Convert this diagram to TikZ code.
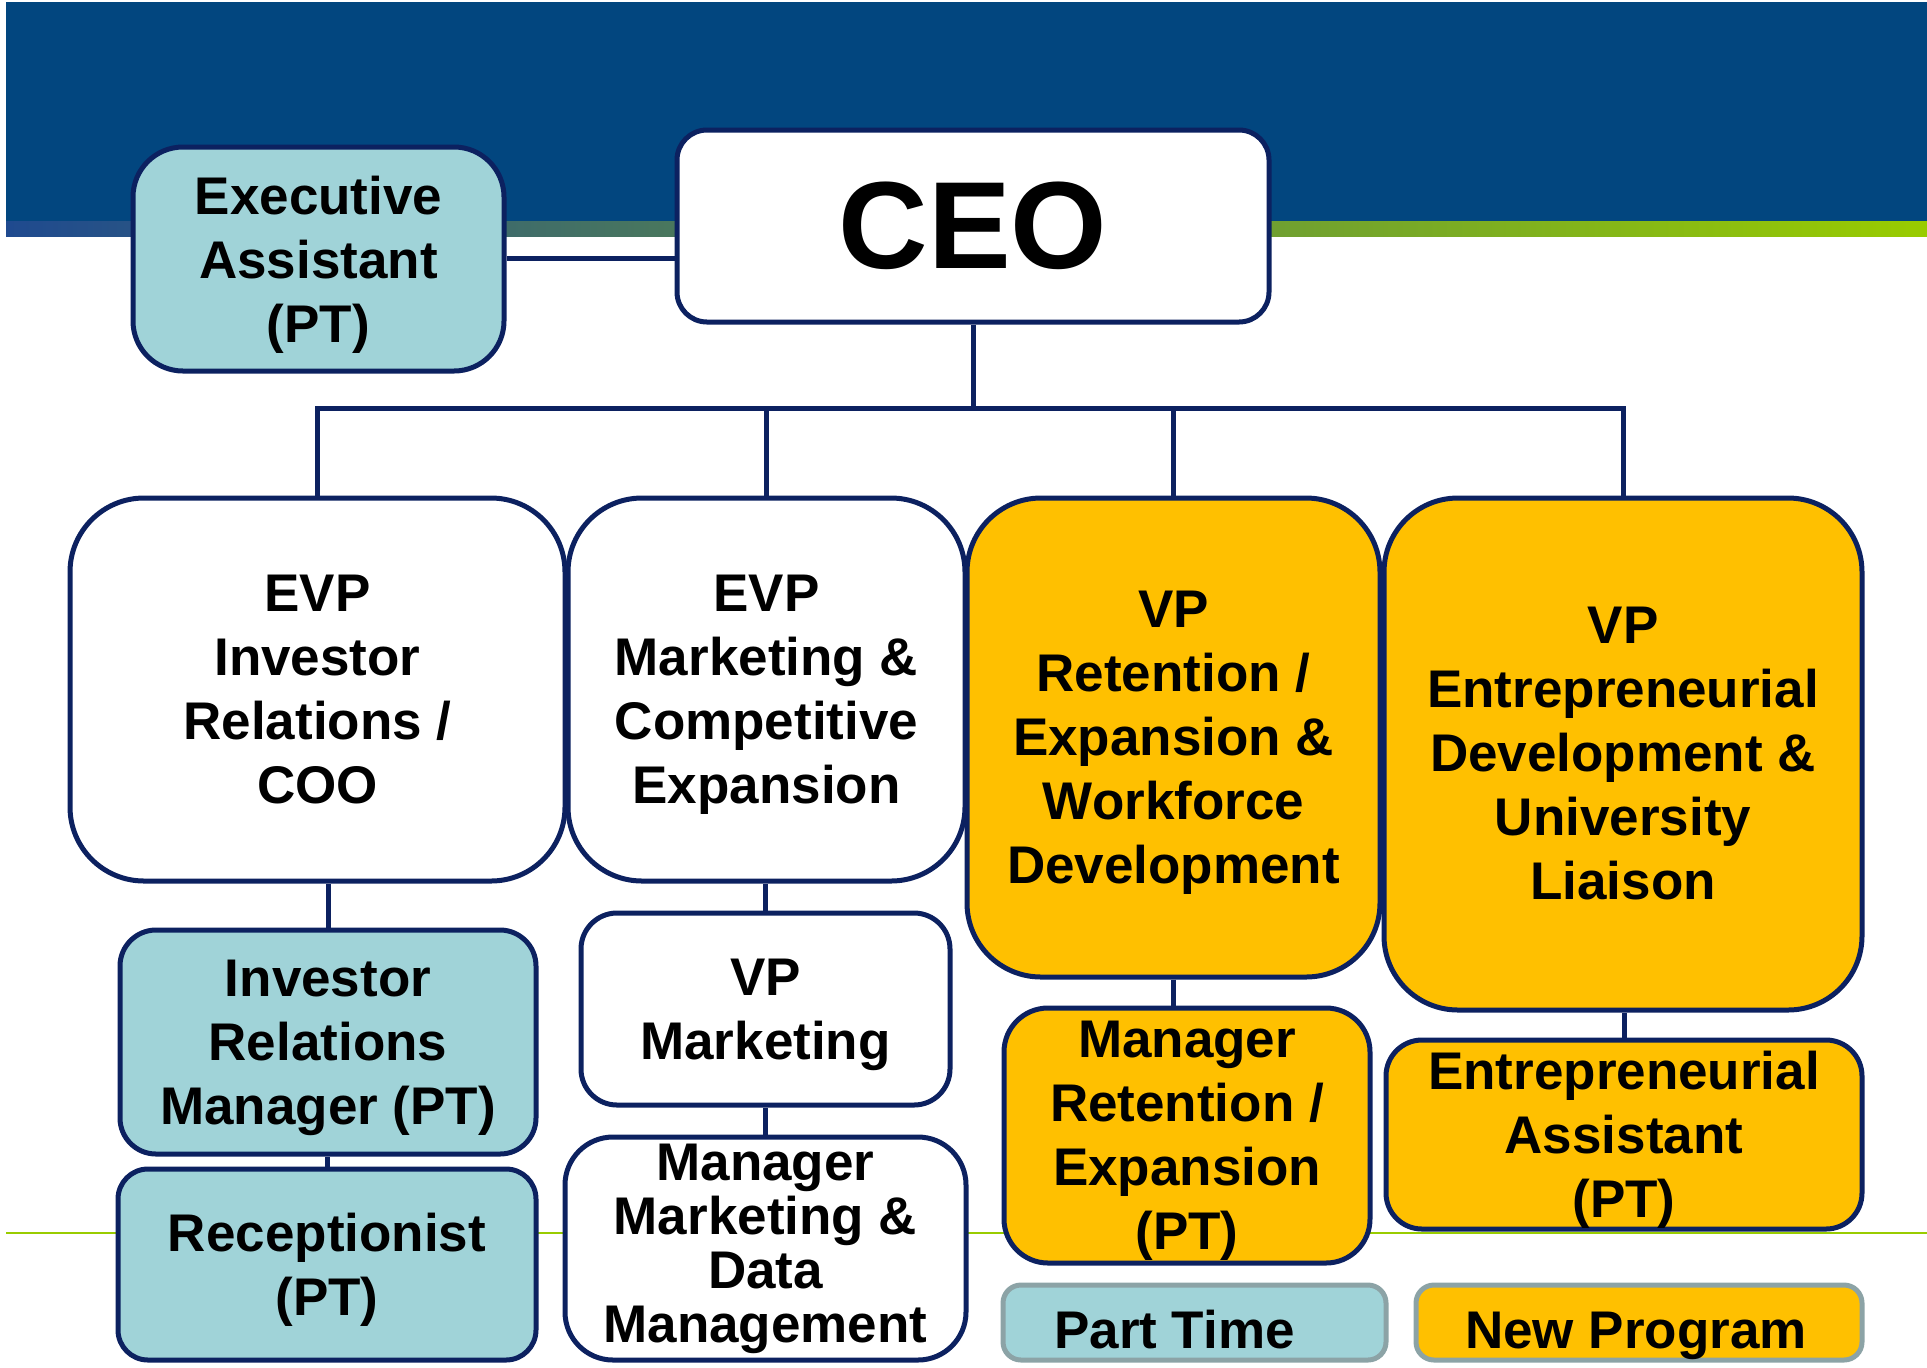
\documentclass[tikz,border=0pt]{standalone}
\usepackage{fontspec}
\setmainfont{Liberation Sans}
\definecolor{bannerblue}{HTML}{02467F}
\definecolor{stripeblue}{HTML}{1F4A8F}
\definecolor{stripegreen}{HTML}{99CC00}
\definecolor{navy}{HTML}{0C2160}
\definecolor{ptblue}{HTML}{A0D3D8}
\definecolor{neworange}{HTML}{FFC000}
\definecolor{legendgrey}{HTML}{8CA3A6}
\newcommand\lastln[1]{\raisebox{0pt}[\height][0pt]{#1}}
\newcommand\legtext[2]{\raisebox{-12.9pt}[0pt][0pt]{\makebox[0pt]{\hspace*{#1}#2}}}
\begin{document}
\begin{tikzpicture}[x=0.5pt,y=-0.5pt,
  box/.style={draw=navy, line width=2.5pt, rounded corners=#1, align=center,
    font=\bfseries\fontsize{26.5}{32}\selectfont, inner sep=0pt},
  box/.default=18pt,
  sz/.style 2 args={minimum width=#1*0.5pt, minimum height=#2*0.5pt},
  pt/.style={fill=ptblue},
  np/.style={fill=neworange},
  wt/.style={fill=white},
  legend/.style={draw=legendgrey, line width=2.5pt, rounded corners=9pt,
    font=\bfseries\fontsize{26.5}{32}\selectfont, inner sep=0pt},
  conn/.style={draw=navy, line width=2.5pt}]
\useasboundingbox (0,0) rectangle (1927,1367);
% banner
\fill[bannerblue] (6,2) rectangle (1927,221);
\shade[left color=stripeblue, right color=stripegreen, middle color=stripeblue!50!stripegreen] (6,221) rectangle (1927,236);
\draw[stripegreen, line width=1pt] (6,1233) -- (1927,1233);
% nodes
\node[box=25pt, pt, sz={371}{224}] (ea) at (318.5,259) {Executive\\Assistant\\\lastln{(PT)}};
\node[box=15pt, wt, sz={592}{192}, font=\bfseries\fontsize{62}{70}\selectfont] (ceo) at (973,226) {CEO};
\node[box=37pt, wt, sz={495}{383}] (evpir) at (317.5,689.5) {EVP\\Investor\\Relations /\\COO};
\node[box=37pt, wt, sz={397}{383}] (evpm) at (766.5,689.5) {EVP\\Marketing \&\\Competitive\\\lastln{Expansion}};
\node[box=37pt, np, sz={413}{479}] (vpr) at (1173.5,737.5) {VP\\Retention /\\Expansion \&\\Workforce\\\lastln{Development}};
\node[box=37pt, np, sz={478}{512}] (vpe) at (1623,754) {VP\\Entrepreneurial\\Development \&\\University\\Liaison};
\node[box=18pt, pt, sz={416}{224}] (irm) at (328,1042) {Investor\\Relations\\\lastln{Manager (PT)}};
\node[box=15pt, pt, sz={418}{191}] (rec) at (327,1264.5) {Receptionist\\\lastln{(PT)}};
\node[box=18pt, wt, sz={369}{192}] (vpm) at (765.5,1009) {VP\\\lastln{Marketing}};
\node[box=24pt, wt, sz={401}{223}, font=\bfseries\fontsize{26.5}{27}\selectfont] (mmd) at (765.5,1248.5) {Manager\\Marketing \&\\Data\\Management};
\node[box=22pt, np, sz={366}{255}] (mr) at (1187,1135.5) {Manager\\Retention /\\Expansion\\\lastln{(PT)}};
\node[box=18pt, np, sz={476}{189}] (ena) at (1624,1134.5) {Entrepreneurial\\Assistant\\\lastln{(PT)}};
\node[legend, pt, sz={383}{75}] (lpt) at (1194.5,1322.5) {\legtext{-20pt}{Part Time}};
\node[legend, np, sz={446}{75}] (lnp) at (1639,1322.5) {\legtext{-3pt}{New Program}};
% connectors
\coordinate (bus) at (973,408);
\draw[conn] (ea.east |- 0,258) -- (ceo.west |- 0,258);
\draw[conn] (ceo.south) -- (bus);
\draw[conn] (evpir.north) |- (bus) -| (vpe.north);
\draw[conn] (evpm.north) -- (evpm.north |- bus);
\draw[conn] (vpr.north) -- (vpr.north |- bus);
\draw[conn] (irm.north) -- (irm.north |- evpir.south);
\draw[conn] (rec.north) -- (rec.north |- irm.south);
\draw[conn] (vpm.north) -- (vpm.north |- evpm.south);
\draw[conn] (mmd.north) -- (mmd.north |- vpm.south);
\draw[conn] (vpr.south) -- (vpr.south |- mr.north);
\draw[conn] (ena.north) -- (ena.north |- vpe.south);
\end{tikzpicture}
\end{document}
